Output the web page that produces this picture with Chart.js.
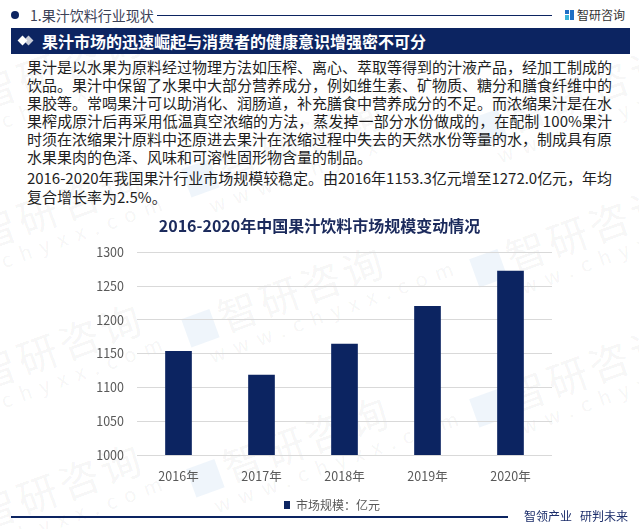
<!DOCTYPE html>
<html lang="zh">
<head>
<meta charset="utf-8">
<script src="https://cdn.jsdelivr.net/npm/chart.js@4/dist/chart.umd.min.js"></script>
<style>
  html, body { margin: 0; padding: 0; overflow: hidden; background: #fff; }
  body { width: 639px; height: 529px; position: relative; font-family: "Noto Sans CJK SC", "Noto Sans", sans-serif; }
  .abs { position: absolute; }
  .wm { position: absolute; color: rgba(0,0,0,0.055); white-space: nowrap; transform: rotate(-20deg); transform-origin: left bottom; pointer-events: none; }
  .wm .big { font-size: 40px; letter-spacing: 4px; line-height: 44px; display: block; }
  .wm .small { font-size: 20px; letter-spacing: 9px; line-height: 22px; display: block; padding-left: 14px; }
  .wm .logo { display: inline-block; width: 30px; height: 30px; margin-right: 6px; background: rgba(31,111,197,0.07); vertical-align: -2px; }
  #para { left: 27px; top: 57.5px; width: 585px; font-size: 15px; color: #1e1e1e; }
  #para div { height: 18.2px; line-height: 18.2px; white-space: nowrap; }
  #chartWrap { left: 0; top: 205px; width: 639px; height: 316px; }
</style>
</head>
<body>
<!-- faint watermarks -->
<div class="wm" style="left:-8px; top:70px;"><span class="big">智研咨询</span><span class="small">chyxx.com</span></div>
<div class="wm" style="left:-8px; top:210px;"><span class="big">智研咨询</span><span class="small">chyxx.com</span></div>
<div class="wm" style="left:-8px; top:350px;"><span class="big">智研咨询</span><span class="small">chyxx.com</span></div>
<div class="wm" style="left:-8px; top:490px;"><span class="big">智研咨询</span><span class="small">chyxx.com</span></div>
<div class="wm" style="left:200px; top:155px;"><span class="big"><span class="logo"></span>智研咨询</span><span class="small">www.chyxx.com</span></div>
<div class="wm" style="left:200px; top:305px;"><span class="big"><span class="logo"></span>智研咨询</span><span class="small">www.chyxx.com</span></div>
<div class="wm" style="left:205px; top:455px;"><span class="big"><span class="logo"></span>智研咨询</span><span class="small">www.chyxx.com</span></div>
<div class="wm" style="left:488px; top:105px;"><span class="big"><span class="logo"></span>智研咨询</span><span class="small">www.chyxx.com</span></div>
<div class="wm" style="left:488px; top:245px;"><span class="big"><span class="logo"></span>智研咨询</span><span class="small">www.chyxx.com</span></div>
<div class="wm" style="left:488px; top:385px;"><span class="big"><span class="logo"></span>智研咨询</span><span class="small">www.chyxx.com</span></div>

<!-- header -->
<div class="abs" style="left:11px; top:11px; width:8px; height:8px; border-radius:50%; background:#0c2461;"></div>
<div class="abs" style="left:30px; top:5px; font-size:14px; line-height:20px; color:#3b4157;">1.果汁饮料行业现状</div>
<div class="abs" style="left:157px; top:15px; width:395px; height:1px; background:#0c2461;"></div>
<div class="abs" style="left:565px; top:10px; width:4px; height:4px; background:#1f6fc5;"></div>
<div class="abs" style="left:570px; top:10px; width:4px; height:10px; background:#1f6fc5;"></div>
<div class="abs" style="left:565px; top:15px; width:4px; height:5px; background:#39b3d9;"></div>
<div class="abs" style="left:577px; top:5px; font-size:12px; line-height:20px; color:#333;">智研咨询</div>

<!-- title bar -->
<div class="abs" style="left:11px; top:28px; width:619px; height:26px; background:#0c2461;"></div>
<div class="abs" style="left:25px; top:37px; width:7px; height:7px; background:#c9cdd8; transform: rotate(45deg);"></div>
<div class="abs" style="left:19px; top:37px; width:7px; height:7px; background:#ffffff; transform: rotate(45deg);"></div>
<div class="abs" style="left:42px; top:29px; font-size:16px; line-height:24px; font-weight:700; color:#fff;">果汁市场的迅速崛起与消费者的健康意识增强密不可分</div>

<!-- text -->
<div id="para" class="abs">
  <div class="j">果汁是以水果为原料经过物理方法如压榨、离心、萃取等得到的汁液产品，经加工制成的</div>
  <div class="j">饮品。果汁中保留了水果中大部分营养成分，例如维生素、矿物质、糖分和膳食纤维中的</div>
  <div class="j">果胶等。常喝果汁可以助消化、润肠道，补充膳食中营养成分的不足。而浓缩果汁是在水</div>
  <div class="j">果榨成原汁后再采用低温真空浓缩的方法，蒸发掉一部分水份做成的，在配制 100%果汁</div>
  <div class="j">时须在浓缩果汁原料中还原进去果汁在浓缩过程中失去的天然水份等量的水，制成具有原</div>
  <div>水果果肉的色泽、风味和可溶性固形物含量的制品。</div>
  <div style="height:2.8px"></div>
  <div class="j">2016-2020年我国果汁行业市场规模较稳定。由2016年1153.3亿元增至1272.0亿元，年均</div>
  <div>复合增长率为2.5%。</div>
</div>

<!-- chart -->
<div id="chartWrap" class="abs"><canvas id="c" width="639" height="316"></canvas></div>

<!-- footer -->
<div class="abs" style="left:11px; top:516px; width:497px; height:1.5px; background:#0c2461;"></div>
<div class="abs" style="left:524px; top:507px; font-size:12px; line-height:18px; color:#1c2e6b; white-space:nowrap;">智领产业<span style="display:inline-block;width:8px"></span>研判未来</div>

<script>
// ---- data ----
const chartTitle = '2016-2020年中国果汁饮料市场规模变动情况';
const categories = ['2016年', '2017年', '2018年', '2019年', '2020年'];
const marketSize = [1153.3, 1118.4, 1164.0, 1220.0, 1272.0];
const seriesName = '市场规模：亿元';
const yTicks = [1000, 1050, 1100, 1150, 1200, 1250, 1300];

// justify text lines
document.querySelectorAll('#para .j').forEach(function (el) {
  const target = 585;
  const r = document.createRange();
  r.selectNodeContents(el);
  const w = r.getBoundingClientRect().width;
  const n = Array.from(el.textContent).length;
  if (n > 1) el.style.letterSpacing = ((target - w) / (n - 1)) + 'px';
});

const navy = '#0c2461';
const FONT = '"Noto Sans CJK SC", "Noto Sans", sans-serif';

// title and legend are centred on the page, not on the padded area
const centreShift = {
  id: 'centreShift',
  afterLayout(chart) {
    const t = chart.titleBlock;
    if (t) { t.left += 43.5; t.right += 43.5; }
    const lg = chart.legend;
    if (lg) { lg.left += 56; lg.right += 56; }
  }
};

new Chart(document.getElementById('c'), {
  type: 'bar',
  data: {
    labels: categories,
    datasets: [{
      label: seriesName,
      data: marketSize,
      backgroundColor: navy,
      borderWidth: 0,
      barThickness: 26
    }]
  },
  options: {
    responsive: false,
    animation: false,
    layout: { padding: { left: 0, right: 87, top: 0, bottom: 0 } },
    plugins: {
      title: {
        display: true,
        text: chartTitle,
        color: '#1b2a5c',
        font: { family: FONT, size: 16, weight: 'bold' },
        padding: { top: 11, bottom: 17 }
      },
      legend: {
        position: 'bottom',
        labels: {
          color: '#595959',
          font: { family: FONT, size: 12 },
          boxWidth: 6,
          boxHeight: 8,
          padding: 1
        }
      },
      tooltip: { enabled: false }
    },
    scales: {
      x: {
        grid: { display: false, drawTicks: false },
        border: { display: false },
        ticks: { color: '#595959', font: { family: FONT, size: 12.5 }, padding: 14 }
      },
      y: {
        min: 1000,
        max: 1300,
        afterBuildTicks(scale) { scale.ticks = yTicks.map(v => ({ value: v })); },
        afterFit(scale) { scale.width = 137; },
        grid: { color: '#d9d9d9', lineWidth: 1, drawTicks: false },
        border: { display: false },
        ticks: {
          color: '#595959',
          font: { family: FONT, size: 12.5 },
          padding: 13,
          callback: (v) => String(v)
        }
      }
    }
  },
  plugins: [centreShift]
});
</script>
</body>
</html>
